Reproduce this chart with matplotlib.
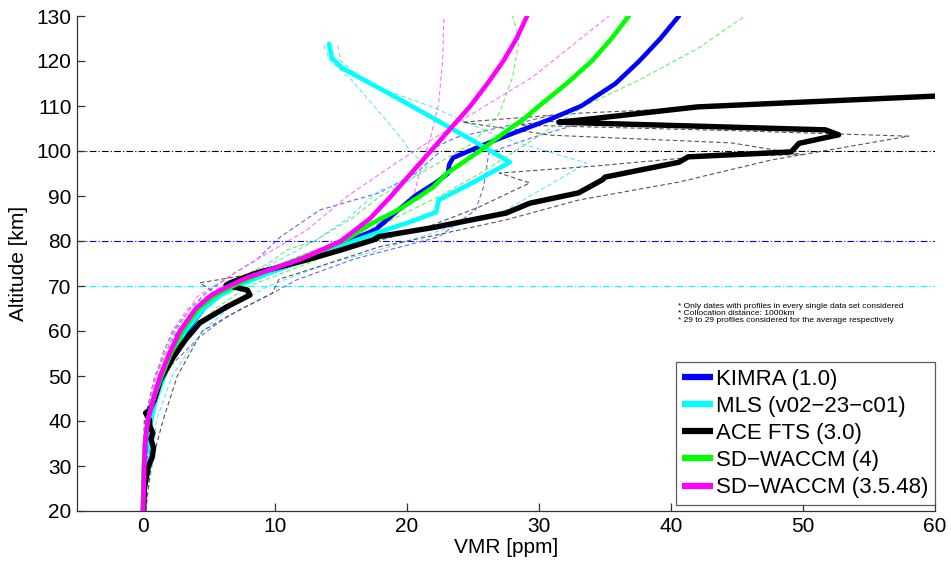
import matplotlib
matplotlib.use("Agg")
import matplotlib.pyplot as plt

plt.rcParams['font.family'] = ['Liberation Sans', 'DejaVu Sans']

# ---- mean profiles (VMR in ppm, altitude in km) ----
kimra_alt = [20, 30, 35, 40, 45, 50, 55, 60, 65, 68, 70, 72, 74, 76, 78, 80, 82.5, 85, 87, 90,
             93, 95, 97, 98.5, 99.5, 101, 103, 105, 107, 110, 115, 120, 125, 130]
kimra_vmr = [0, 0.1, 0.2, 0.4, 0.9, 1.5, 2.3, 3.3, 4.6, 5.7, 6.8, 8.5, 10.3, 12.2, 14.0, 15.6, 17.6, 18.6,
             19.4, 20.6, 22.2, 23.1, 23.2, 23.5, 24.3, 25.5, 27.2, 29.0, 30.8, 33.2, 35.8, 37.6, 39.2, 40.6]

mls_alt = [20, 30, 32, 35, 40, 45, 50, 55, 60, 65, 68, 70, 72, 74, 76, 78, 80, 82, 84, 86.4, 89.1,
           93, 97.5, 101.8, 107.6, 113, 118.4, 120.7, 123.8]
mls_vmr = [0, 0.2, 0.6, 0.5, 0.6, 1.0, 1.6, 2.3, 3.2, 4.6, 5.9, 7.2, 8.8, 10.6, 12.5, 14.3, 16.0,
           17.9, 20.0, 22.2, 22.4, 25.0, 27.8, 25.3, 21.8, 18.5, 15.1, 14.3, 14.1]

ace_alt = [20, 25, 29.8, 32, 34, 36, 37.3, 39, 40.2, 41.8, 42.4, 45, 49, 54.2, 58, 61.8, 65.3, 68,
           69.1, 70.2, 70.7, 72.9, 75.8, 78, 80.2, 81, 83.1, 83.6, 86.2, 88.4, 90.7, 93.6, 94.2, 97.5,
           98.7, 99.8, 101.7, 103.6, 104.7, 106.4, 107.0, 109.8, 112.2, 112.5]
ace_vmr = [0.05, 0.1, 0.4, 0.7, 0.8, 0.6, 0.75, 0.5, 0.5, 0.2, 0.5, 0.9, 1.3, 2.3, 3.2, 4.3, 6.3, 8.1,
           7.9, 6.3, 6.6, 8.6, 12.4, 15.0, 17.4, 17.9, 22.2, 23.0, 27.5, 29.3, 33.0, 34.8, 35.0, 40.6,
           41.3, 49.1, 49.7, 52.7, 51.7, 31.5, 33.5, 42.0, 60.0, 62.0]

waccm4_alt = [20, 30, 35, 40, 45, 50, 55, 60, 65, 68, 70, 72, 74, 76, 78, 80, 84, 87, 90, 92, 95,
              100, 105, 107, 110, 115, 120, 125, 130]
waccm4_vmr = [0, 0.05, 0.15, 0.35, 0.8, 1.4, 2.1, 3.0, 4.2, 5.5, 6.8, 8.3, 10.0, 11.8, 13.6, 15.2,
              17.4, 19.4, 21.0, 22.0, 23.0, 25.5, 27.8, 28.8, 30.0, 32.1, 34.0, 35.5, 36.8]

waccm35_alt = [20, 30, 35, 40, 45, 50, 55, 60, 65, 68, 70, 72, 74, 76, 78, 80, 85, 90, 95, 100,
               105, 110, 115, 120, 125, 130]
waccm35_vmr = [0, 0.1, 0.15, 0.35, 0.8, 1.3, 2.0, 2.8, 4.0, 5.2, 6.5, 8.0, 10.0, 12.0, 13.5, 15.0,
               17.2, 18.8, 20.3, 21.8, 23.3, 24.8, 26.1, 27.3, 28.3, 29.1]

# ---- spread envelopes (two dashed profiles per data set) ----
kimra_lo_alt = [20, 30, 40, 50, 55, 60, 65, 68, 70, 73, 75.8, 80.9, 86.9, 90.7, 95.1, 99.6, 100.2, 103, 106.2, 108]
kimra_lo_vmr = [0, 0, 0.2, 1.0, 1.5, 2.3, 3.6, 4.6, 5.5, 7.0, 8.6, 10.4, 13.4, 17.9, 20.7, 22.4, 21.7, 23.7, 28.5, 31.0]
kimra_hi_alt = [20, 30, 40, 47.5, 52, 58.7, 63.1, 68.4, 71.3, 76, 80.9, 86.9, 92, 99.6, 103, 106]
kimra_hi_vmr = [0.1, 0.3, 0.6, 0.8, 2.0, 4.3, 6.3, 9.8, 11.6, 16.0, 22.4, 25.2, 25.8, 26.2, 29.5, 33.0]

mls_lo_alt = [20, 30, 40, 50, 60, 65, 70, 75, 80, 85, 91.3, 93, 96.4, 100.2, 103.1, 110, 116.4, 120, 124]
mls_lo_vmr = [0, 0.1, 0.4, 1.2, 2.8, 4.2, 6.3, 9.8, 13.0, 15.5, 17.9, 20.0, 21.5, 20.2, 19.5, 17.5, 15.6, 14.2, 13.6]
mls_hi_alt = [20, 30, 40, 50, 60, 65, 70, 75, 78, 80, 86.9, 92, 97.3, 103.1, 109.8, 115.1, 120, 124]
mls_hi_vmr = [0.1, 0.7, 1.0, 2.2, 4.5, 6.5, 9.5, 14.0, 17.9, 20.0, 27.5, 30.5, 33.6, 27.0, 21.9, 16.9, 15.0, 14.7]

ace_lo_alt = [20, 30, 40, 50, 58, 64, 68.5, 70.7, 73, 76, 79.5, 82.5, 87.6, 92.9, 95.1, 96.6, 98.7,
              99.2, 101.8, 103.5, 106.4, 108.4, 109.6]
ace_lo_vmr = [0, 0, 0.1, 0.9, 2.2, 3.6, 5.5, 4.3, 9.0, 12.5, 17.0, 21.0, 25.5, 29.3, 27.0, 34.0, 42.0,
              50.0, 44.6, 31.0, 24.2, 33.0, 42.0]
ace_hi_alt = [20, 30, 40, 50, 60, 65, 68.4, 71.5, 74, 78.7, 81.5, 84.7, 89.1, 93.1, 98, 103.3, 104.5,
              105.8, 109.4, 112.4]
ace_hi_vmr = [0.2, 0.6, 1.5, 2.6, 4.5, 7.5, 9.8, 10.3, 13.0, 17.9, 22.5, 27.5, 33.0, 40.6, 47.6, 58.0,
              45.0, 28.0, 42.0, 60.0]

waccm4_lo_alt = [20, 30, 40, 50, 60, 65, 70, 75, 78, 80, 85, 90, 95, 101.8, 108.4, 116.4, 124.7, 130]
waccm4_lo_vmr = [0, 0, 0.2, 1.0, 2.4, 3.6, 6.0, 9.5, 10.9, 13.0, 15.8, 18.0, 21.0, 25.0, 27.0, 28.0, 28.5, 28.0]
waccm4_hi_alt = [20, 30, 40, 50, 60, 65, 70, 75, 80, 85, 90, 95, 102.4, 109.8, 115.8, 122.9, 130]
waccm4_hi_vmr = [0, 0.1, 0.5, 1.7, 3.6, 5.5, 8.0, 12.5, 16.5, 19.0, 22.5, 25.5, 29.5, 33.3, 37.6, 42.1, 45.6]

waccm35_lo_alt = [20, 30, 40, 50, 60, 65, 70, 73, 78, 82, 90, 98, 103.1, 110.7, 120.2, 130]
waccm35_lo_vmr = [0, 0, 0.2, 0.9, 2.2, 3.4, 6.0, 8.8, 13.0, 17.0, 20.5, 21.2, 21.8, 22.4, 22.7, 22.8]
waccm35_hi_alt = [20, 30, 40, 50, 60, 67.6, 73.6, 82.4, 90, 97, 107.5, 116.4, 130]
waccm35_hi_vmr = [0, 0, 0.2, 1.0, 2.5, 4.1, 7.3, 12.4, 15.5, 19.0, 24.5, 29.5, 35.3]

labels = ['KIMRA (1.0)', 'MLS (v02\u221223\u2212c01)', 'ACE FTS (3.0)',
          'SD\u2212WACCM (4)', 'SD\u2212WACCM (3.5.48)']
colors = ['#0000ff', '#00ffff', '#000000', '#00ff00', '#ff00ff']
dash_colors = ['#6464ff', '#5fe6ff', '#555555', '#66ee66', '#ff70ff']

means = [(kimra_vmr, kimra_alt), (mls_vmr, mls_alt), (ace_vmr, ace_alt),
         (waccm4_vmr, waccm4_alt), (waccm35_vmr, waccm35_alt)]
spreads = [((kimra_lo_vmr, kimra_lo_alt), (kimra_hi_vmr, kimra_hi_alt)),
           ((mls_lo_vmr, mls_lo_alt), (mls_hi_vmr, mls_hi_alt)),
           ((ace_lo_vmr, ace_lo_alt), (ace_hi_vmr, ace_hi_alt)),
           ((waccm4_lo_vmr, waccm4_lo_alt), (waccm4_hi_vmr, waccm4_hi_alt)),
           ((waccm35_lo_vmr, waccm35_lo_alt), (waccm35_hi_vmr, waccm35_hi_alt))]

# reference altitudes
ref_alts = [100, 80, 70]
ref_colors = ['#000000', '#0000ff', '#00ffff']

fig = plt.figure(figsize=(9.51, 5.63), dpi=100)
ax = fig.add_axes([77 / 951, 52 / 563, (935 - 77) / 951, (511 - 16) / 563])

for a, c in zip(ref_alts, ref_colors):
    ax.axhline(a, color=c, lw=0.8, ls=(0, (6, 2, 1, 2)), zorder=1)

for (lo, hi), dc in zip(spreads, dash_colors):
    for v, h in (lo, hi):
        ax.plot(v, h, color=dc, lw=0.8, ls=(0, (4, 2.5)), zorder=2)

handles = []
for (v, h), c, lab in zip(means, colors, labels):
    lw = 3.9 if c == '#000000' else 3.3
    ln, = ax.plot(v, h, color=c, lw=lw, label=lab, solid_capstyle='round',
                  solid_joinstyle='round', zorder=3)
    handles.append(ln)

ax.set_xlim(-5, 60)
ax.set_ylim(20, 130)
ax.set_xticks(range(0, 61, 10))
ax.set_yticks(range(20, 131, 10))
ax.spines['top'].set_visible(False)
ax.spines['right'].set_visible(False)
for s in ('left', 'bottom'):
    ax.spines[s].set_color('#333333')
    ax.spines[s].set_linewidth(0.9)
ax.tick_params(direction='in', length=6, width=0.9, color='#333333',
               labelsize=15, pad=4)
ax.set_xlabel('VMR [ppm]', fontsize=15, labelpad=2)
ax.set_ylabel('Altitude [km]', fontsize=15, labelpad=6)

leg = ax.legend(handles=handles, loc='lower right', bbox_to_anchor=(1.0, 0.012),
                fontsize=16, frameon=True, fancybox=False, handlelength=1.4,
                handletextpad=0.12, borderpad=0.3, labelspacing=0.28,
                borderaxespad=0.0)
leg.get_frame().set_edgecolor('#333333')
leg.get_frame().set_linewidth(0.9)
for ln in leg.get_lines():
    ln.set_linewidth(4.5)
    ln.set_solid_capstyle('butt')

notes = ['* Only dates with profiles in every single data set considered',
         '* Collocation distance: 1000km',
         '* 29 to 29 profiles considered for the average respectively']
fig.text(678 / 951, (563 - 303) / 563, '\n'.join(notes), fontsize=6.0,
         va='top', ha='left', linespacing=1.0)

fig.savefig('out.png', dpi=100)
